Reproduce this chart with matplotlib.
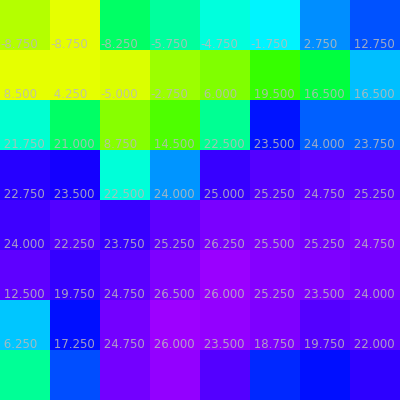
import numpy as np
import matplotlib
matplotlib.use("Agg")
import matplotlib.pyplot as plt
from matplotlib.colors import ListedColormap, hsv_to_rgb

# cell values, one list per row (top row first)
row0 = [-6.75, -8.75, 4.25, 6.5, 9.0, 10.75, 14.75, 17.0]
row1 = [-8.75, -8.75, -8.25, -5.75, -4.75, -1.75, 2.75, 12.75]
row2 = [8.5, 4.25, -5.0, -2.75, 6.0, 19.5, 16.5, 16.5]
row3 = [21.75, 21.0, 8.75, 14.5, 22.5, 23.5, 24.0, 23.75]
row4 = [22.75, 23.5, 22.5, 24.0, 25.0, 25.25, 24.75, 25.25]
row5 = [24.0, 22.25, 23.75, 25.25, 26.25, 25.5, 25.25, 24.75]
row6 = [12.5, 19.75, 24.75, 26.5, 26.0, 25.25, 23.5, 24.0]
row7 = [6.25, 17.25, 24.75, 26.0, 23.5, 18.75, 19.75, 22.0]

grid = np.array([row0, row1, row2, row3, row4, row5, row6, row7])
nrows, ncols = grid.shape

# pure hue ramp: yellow -> green -> cyan -> blue -> purple
hues = np.linspace(66, 277, 256) / 360.0
hsv = np.stack([hues, np.ones_like(hues), np.ones_like(hues)], axis=1)
cmap = ListedColormap(hsv_to_rgb(hsv))

fig = plt.figure(figsize=(4, 4), dpi=100)
ax = fig.add_axes([0, 0, 1, 1])
ax.pcolormesh(np.arange(ncols + 1), np.arange(nrows + 1), grid,
              cmap=cmap, vmin=grid.min(), vmax=grid.max())
ax.set_xlim(0, ncols)
ax.set_ylim(nrows, 0)
ax.axis("off")

# labels sit on the top edge of their cell; the top row's would fall off the canvas
for i in range(1, nrows):
    for j in range(ncols):
        ax.text(j, i - 0.03, f"{grid[i, j]: .3f}", ha="left", va="baseline",
                fontsize=8.5, color="#bbbbbb", alpha=0.85)

fig.savefig("out.png", dpi=100)
